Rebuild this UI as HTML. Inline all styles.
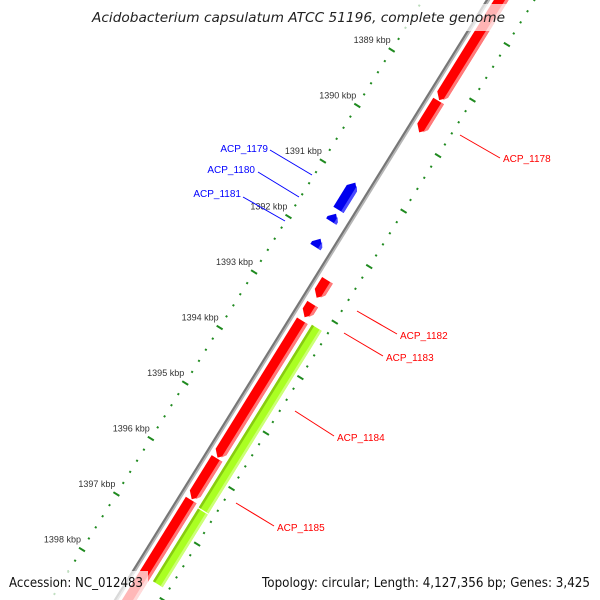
<!DOCTYPE html>
<html><head><meta charset="utf-8"><style>
html,body{margin:0;padding:0;background:#fff;overflow:hidden}
svg{display:block}
</style></head><body>
<svg id="map" width="600" height="600" viewBox="0 0 600 600" xmlns="http://www.w3.org/2000/svg">
<g id="rulers"></g>
<g id="backbone"></g>
<g id="genes"></g>
<g id="labels" font-family="'Liberation Sans', sans-serif" font-size="10">
<line x1="460" y1="135" x2="500" y2="158" stroke="#f00" stroke-width="1"/>
<text x="503" y="162" fill="#f00">ACP_1178</text>
<line x1="357" y1="311" x2="397" y2="334" stroke="#f00"/>
<text x="400" y="339" fill="#f00">ACP_1182</text>
<line x1="344" y1="333" x2="383" y2="356" stroke="#f00"/>
<text x="386" y="361" fill="#f00">ACP_1183</text>
<line x1="295" y1="411" x2="334" y2="436" stroke="#f00"/>
<text x="337" y="441" fill="#f00">ACP_1184</text>
<line x1="236" y1="503" x2="274" y2="526" stroke="#f00"/>
<text x="277" y="531" fill="#f00">ACP_1185</text>
<line x1="270" y1="150" x2="312" y2="175" stroke="#00f"/>
<text x="268" y="152" text-anchor="end" fill="#00f">ACP_1179</text>
<line x1="258" y1="172" x2="299" y2="197" stroke="#00f"/>
<text x="255" y="173" text-anchor="end" fill="#00f">ACP_1180</text>
<line x1="243" y1="197" x2="285" y2="221" stroke="#00f"/>
<text x="241" y="197" text-anchor="end" fill="#00f">ACP_1181</text>
</g>
<rect x="86" y="4" width="424" height="27" fill="#fff" fill-opacity="0.7"/>
<text x="92" y="22" font-family="'DejaVu Sans', sans-serif" font-style="italic" font-size="13" fill="#222" textLength="413" lengthAdjust="spacingAndGlyphs">Acidobacterium capsulatum ATCC 51196, complete genome</text>
<rect x="3" y="571" width="145" height="29" fill="#fff" fill-opacity="0.72"/>
<text x="9" y="587" font-family="'DejaVu Sans', sans-serif" font-size="13" fill="#111" textLength="134" lengthAdjust="spacingAndGlyphs">Accession: NC_012483</text>
<rect x="256" y="571" width="342" height="29" fill="#fff" fill-opacity="0.72"/>
<text x="262" y="587" font-family="'DejaVu Sans', sans-serif" font-size="13" fill="#111" textLength="328" lengthAdjust="spacingAndGlyphs">Topology: circular; Length: 4,127,356 bp; Genes: 3,425</text>
</svg>
<script>
// data (kbp)
const tickKbp = [1389,1390,1391,1392,1393,1394,1395,1396,1397,1398];
const tickLabels = ["1389 kbp","1390 kbp","1391 kbp","1392 kbp","1393 kbp","1394 kbp","1395 kbp","1396 kbp","1397 kbp","1398 kbp"];
const forwardStarts = [1386.5, 1389.27, 1392.50, 1392.93, 1393.23, 1395.71, 1396.46];
const forwardEnds   = [1389.27, 1389.85, 1392.83, 1393.18, 1395.71, 1396.46, 1401.0];
const reverseStarts = [1391.02, 1391.58, 1392.03];
const reverseEnds   = [1391.51, 1391.72, 1392.18];
const orfStarts = [1393.21, 1396.52];
const orfEnds   = [1396.52, 1397.85];

const NS='http://www.w3.org/2000/svg';
const O={x:391.7,y:50}, K0=1389, PX=65.3;
const U={x:-0.527,y:0.850}, N={x:0.850,y:0.527};
function P(k,r){const s=(k-K0)*PX;return [O.x+s*U.x+r*N.x, O.y+s*U.y+r*N.y];}
function pts(list){return list.map(p=>P(p[0],p[1]).map(v=>v.toFixed(2)).join(',')).join(' ');}
function mk(tag,attrs,parent){const e=document.createElementNS(NS,tag);for(const k in attrs)e.setAttribute(k,attrs[k]);parent.appendChild(e);return e;}

const rul=document.getElementById('rulers');
function ruler(r,name,labels){
  for(let k=1386;k<=1401.001;k+=0.2){
    const kk=Math.round(k*10)/10;
    const major=Math.abs(kk-Math.round(kk))<1e-6;
    const a=P(kk,major?r-3.5:r-1),b=P(kk,major?r+3.5:r+1);
    const ln=mk('line',{x1:a[0],y1:a[1],x2:b[0],y2:b[1],stroke:'#1f8a1f','stroke-width':2},rul);
    
    
  }
  if(labels){
    tickKbp.forEach((k,i)=>{
      const p=P(k,r);
      const t=mk('text',{x:p[0]-1,y:p[1]-7,'text-anchor':'end','font-family':"'Liberation Sans', sans-serif",'font-size':9,fill:'#333'},rul);
      t.textContent=tickLabels[i];
      
      
    });
  }
}
ruler(0,'outer-ruler',true);
ruler(95,'inner-ruler',false);

const bb=document.getElementById('backbone');
const bA=mk('polygon',{points:pts([[1385,53.5],[1402,53.5],[1402,55.8],[1385,55.8]]),fill:'#777'},bb);


const bB=mk('polygon',{points:pts([[1385,55.8],[1402,55.8],[1402,57.5],[1385,57.5]]),fill:'#b5b5b5'},bb);



const g=document.getElementById('genes');
const H=0.1;
function fwdGene(s0,s1,r0,r1,col,light,name){
  const rm=(r0+r1)/2, h=Math.min(H,(s1-s0)/2);
  const e=mk('polygon',{points:pts([[s0,r0],[s1-h,r0],[s1,rm],[s1-h,r1],[s0,r1]]),fill:col},g);
  
  
  const st=mk('polygon',{points:pts([[s0,r1-3],[s1-h*0.3,r1-3],[s1-h,r1],[s0,r1]]),fill:light},g);
  
  
}
function revGene(s0,s1,r0,r1,name){
  const rm=(r0+r1)/2, h=Math.min(H,(s1-s0)*0.7);
  const e=mk('polygon',{points:pts([[s0,rm],[s0+h,r0],[s1,r0],[s1,r1],[s0+h,r1]]),fill:'#0000ee'},g);
  
  
  const st=mk('polygon',{points:pts([[s0+h*0.3,r1-3],[s1,r1-3],[s1,r1],[s0+h,r1]]),fill:'#4a4aff'},g);
  
  
}
forwardStarts.forEach((s,i)=>fwdGene(s+0.015,forwardEnds[i],60.5,73,'#ff0000','#ff7a7a','forward-gene'));
reverseStarts.forEach((s,i)=>revGene(s,reverseEnds[i],33,45,'reverse-gene'));
orfStarts.forEach((s,i)=>{
  const e=mk('polygon',{points:pts([[s+0.01,77],[orfEnds[i]-0.01,77],[orfEnds[i]-0.01,88.5],[s+0.01,88.5]]),fill:'#aaff22'},g);
  
  
  const d=mk('polygon',{points:pts([[s+0.01,77],[orfEnds[i]-0.01,77],[orfEnds[i]-0.01,79.5],[s+0.01,79.5]]),fill:'#88cc11'},g);
  
  
  const l=mk('polygon',{points:pts([[s+0.01,86],[orfEnds[i]-0.01,86],[orfEnds[i]-0.01,88.5],[s+0.01,88.5]]),fill:'#ccff77'},g);
  
  
});
</script>
</body></html>
